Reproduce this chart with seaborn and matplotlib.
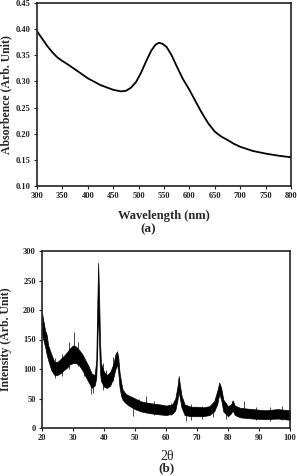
import matplotlib
matplotlib.use("Agg")
import matplotlib.pyplot as plt
import numpy as np
import pandas as pd
import seaborn as sns

# (a) UV-vis absorbance spectrum
wavelength = [300, 310, 320, 330, 340, 350, 360, 375, 400, 425, 450, 465, 475,
              485, 495, 505, 515, 525, 533, 540, 547, 555, 565, 575, 587, 600,
              612, 625, 637, 650, 662, 675, 687, 700, 725, 750, 775, 800]
absorbance = [0.396, 0.382, 0.368, 0.356, 0.346, 0.339, 0.333, 0.323, 0.306,
              0.293, 0.284, 0.281, 0.282, 0.288, 0.299, 0.317, 0.339, 0.359,
              0.370, 0.374, 0.372, 0.366, 0.350, 0.329, 0.305, 0.284, 0.262,
              0.239, 0.220, 0.204, 0.195, 0.188, 0.181, 0.175, 0.167, 0.162,
              0.158, 0.155]

# (b) XRD pattern: noise band (lower / upper edge)
two_theta = [20, 20.5, 21, 21.5, 22, 23, 24, 25, 26, 27, 28, 29, 30, 31, 32, 33,
             34, 35, 36, 37, 37.5, 37.8, 38.1, 38.4, 38.7, 39, 40, 41, 42, 43,
             43.7, 44.2, 44.6, 45, 45.5, 46, 47, 48, 50, 52, 55, 58, 60, 62, 63,
             63.7, 64.1, 64.5, 65, 66, 68, 70, 72, 74, 75.5, 76.5, 77.2, 77.8,
             78.5, 80, 81, 81.5, 82.2, 84, 88, 92, 96, 100]
band_lo = [160, 148, 138, 125, 115, 98, 90, 90, 93, 98, 102, 108, 110, 110, 106,
           98, 88, 78, 68, 72, 85, 130, 200, 150, 95, 80, 70, 68, 72, 85, 100,
           108, 95, 70, 55, 48, 42, 38, 32, 28, 25, 23, 22, 24, 30, 48, 62, 50,
           35, 22, 20, 20, 20, 22, 28, 40, 58, 48, 28, 20, 25, 30, 22, 18, 16,
           15, 16, 14]
band_hi = [195, 180, 165, 158, 140, 125, 112, 112, 117, 122, 128, 135, 140, 138,
           132, 125, 115, 105, 92, 90, 115, 200, 280, 230, 150, 110, 95, 90, 95,
           108, 125, 130, 120, 95, 78, 65, 58, 55, 50, 45, 42, 40, 38, 40, 50,
           70, 88, 72, 55, 40, 36, 36, 35, 37, 45, 62, 77, 68, 48, 37, 40, 47,
           38, 34, 32, 30, 32, 30]

# isolated noise spikes sticking out of the band
spike_x = [21.3, 24.2, 26.5, 28.8, 30.2, 31.5, 33.7, 35.8, 36.4, 39.6, 40.5,
           42.8, 49.5, 51.2, 53.4, 56.0, 61.5, 66.3, 68.1, 71.5, 75.0, 79.5,
           85.2, 89.0, 93.5, 97.4]
spike_lo = [140, 85, 88, 100, 115, 105, 88, 58, 60, 65, 68, 80, 20, 30, 25,
            22, 22, 12, 14, 16, 18, 16, 20, 14, 12, 14]
spike_hi = [162, 118, 125, 145, 162, 145, 120, 95, 90, 110, 98, 120, 52, 50,
            54, 45, 42, 38, 40, 38, 44, 42, 46, 36, 35, 38]

sns.set_style("ticks")
plt.rcParams["font.family"] = ["Liberation Serif", "DejaVu Serif"]
plt.rcParams["font.weight"] = "bold"

fig = plt.figure(figsize=(2.97, 4.76), dpi=100)
ax1 = fig.add_axes([37 / 297, 1 - 186 / 476, 254 / 297, 183 / 476])
ax2 = fig.add_axes([42 / 297, 1 - 428 / 476, 248 / 297, 177 / 476])

df_a = pd.DataFrame({"wl": wavelength, "abs": absorbance})
sns.lineplot(data=df_a, x="wl", y="abs", ax=ax1, color="black", lw=1.3)
ax1.set_xlim(300, 800)
ax1.set_ylim(0.10, 0.45)
ax1.set_xticks(np.arange(300, 801, 50))
ax1.set_yticks(np.arange(0.10, 0.451, 0.05))
ax1.set_yticklabels([f"{v:.2f}" for v in np.arange(0.10, 0.451, 0.05)])
ax1.set_xlabel("Wavelength (nm)", fontsize=9, fontweight="bold", labelpad=0)
ax1.set_ylabel("Absorbence (Arb. Unit)", fontsize=8.5, fontweight="bold")
ax1.xaxis.set_label_coords(0.5, -0.13)
ax1.yaxis.set_label_coords(-0.098, 0.5)

ax2.fill_between(two_theta, band_lo, band_hi, color="black", lw=0.5)
ax2.vlines(spike_x, spike_lo, spike_hi, color="black", lw=0.5)
ax2.set_xlim(20, 100)
ax2.set_ylim(0, 300)
ax2.set_xticks(np.arange(20, 101, 10))
ax2.set_yticks(np.arange(0, 301, 50))
ax2.set_xlabel("")
ax2.set_ylabel("Intensity (Arb. Unit)", fontsize=8.5, fontweight="bold")
ax2.yaxis.set_label_coords(-0.12, 0.5)

for ax in (ax1, ax2):
    for s in ax.spines.values():
        s.set_visible(True)
        s.set_linewidth(1.2)
        s.set_color("#222222")
    ax.tick_params(labelsize=6, width=0.8, length=2.5, direction="out",
                   pad=2, colors="#222222")
    for lab in ax.get_xticklabels() + ax.get_yticklabels():
        lab.set_fontweight("bold")

fig.text(0.5, 1 - 229 / 476, "(a)", ha="center", va="center", fontsize=9.5,
         fontweight="bold")
fig.text(0.562, 1 - 456 / 476, "2θ", ha="center", va="center", fontsize=10,
         fontweight="normal")
fig.text(0.562, 0.004, "(b)", ha="center", va="bottom", fontsize=9.5,
         fontweight="bold")

fig.savefig("out.png", dpi=100)
